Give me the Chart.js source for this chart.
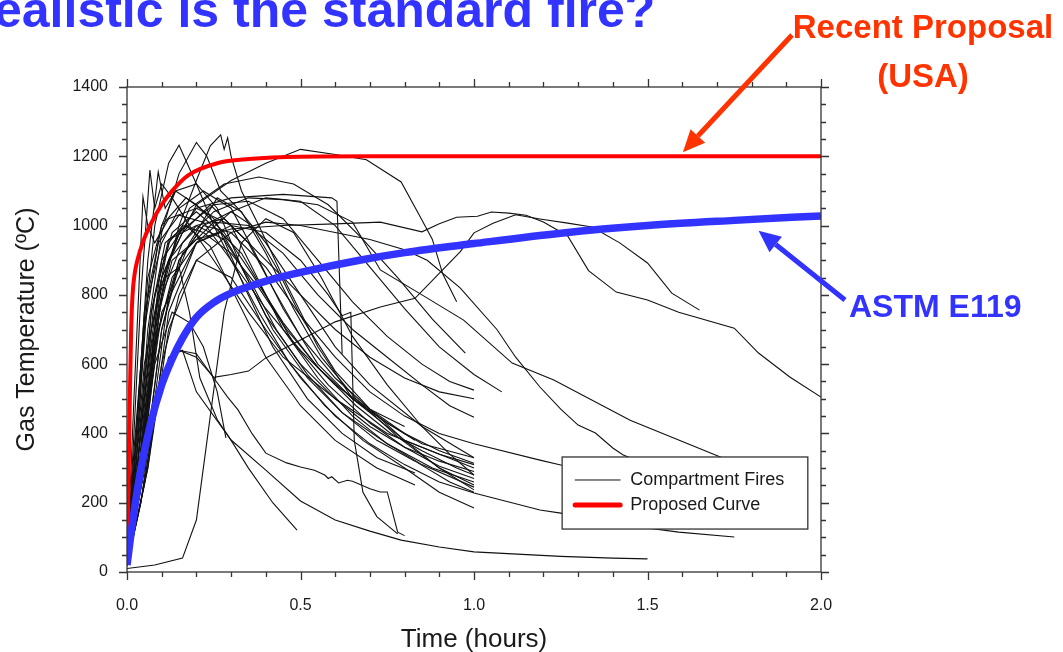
<!DOCTYPE html>
<html lang="en">
<head>
<meta charset="utf-8">
<title>How realistic is the standard fire?</title>
<script src="https://cdn.jsdelivr.net/npm/chart.js@4.4.1/dist/chart.umd.min.js"></script>
<style>
    html, body { margin: 0; padding: 0; background: #fff; overflow: hidden; }
    #wrap { position: relative; width: 1063px; height: 652px; overflow: hidden; background: #fff; }
    #fireChart { position: absolute; left: 0; top: 0; }
    .note { position: absolute; font-family: 'Liberation Sans', Arial, sans-serif; font-weight: bold; white-space: nowrap; }
    #slideTitle { left: -6px; top: -15px; font-size: 50px; line-height: 50px; color: #3333ff; }
    #proposalNote { left: 782px; top: 2px; width: 282px; text-align: center; font-size: 33px; line-height: 49px; color: #ff3300; }
    #astmNote { left: 849px; top: 290px; font-size: 32px; line-height: 32px; color: #3333ff; }
</style>
</head>
<body>
<div id="wrap">
    <canvas id="fireChart" width="1063" height="652"></canvas>
    <div class="note" id="slideTitle">ealistic is the standard fire?</div>
    <div class="note" id="proposalNote">Recent Proposal<br>(USA)</div>
    <div class="note" id="astmNote">ASTM E119</div>
</div>

<script type="text/javascript">

    // time in hours, gas temperature in degC
    const proposedCurve = [[0, 20], [0.005, 300], [0.009, 550], [0.012, 700], [0.016, 800], [0.022, 860], [0.03, 900],
        [0.045, 950], [0.066, 1000], [0.1, 1060], [0.13, 1100], [0.176, 1145], [0.26, 1180], [0.35, 1192],
        [0.5, 1199], [0.7, 1200], [1.0, 1200], [1.5, 1200], [2.0, 1200]];

    const astmE119 = [[0, 20], [0.017, 150], [0.037, 280], [0.066, 420], [0.1, 540], [0.13, 615], [0.16, 675],
        [0.2, 735], [0.25, 778], [0.3, 805], [0.43, 848], [0.5, 865], [0.67, 900], [0.8, 922], [1.0, 948],
        [1.25, 978], [1.5, 1000], [1.75, 1015], [2.0, 1028]];

    const fire01 = [[0, 20], [0.03, 250], [0.07, 650], [0.12, 900], [0.2, 1060], [0.3, 1130], [0.4, 1180], [0.5, 1220], [0.6, 1205], [0.69, 1190], [0.79, 1126], [0.85, 1016], [0.88, 960], [0.91, 860], [0.95, 780]];
    const fire02 = [[0, 20], [0.04, 300], [0.08, 700], [0.13, 900], [0.2, 960], [0.3, 990], [0.45, 1000], [0.6, 1005], [0.73, 1010], [0.85, 982], [0.9, 1005], [0.95, 1024], [1.01, 1027], [1.05, 1039], [1.1, 1036], [1.15, 1030], [1.2, 1010], [1.27, 970], [1.33, 870], [1.41, 808], [1.5, 785], [1.59, 750], [1.75, 704], [1.82, 632], [1.91, 563], [2.0, 505]];
    const fire03 = [[0, 20], [0.05, 300], [0.1, 550], [0.15, 640], [0.2, 620], [0.25, 562], [0.3, 570], [0.35, 580], [0.4, 618], [0.5, 670], [0.6, 722], [0.73, 765], [0.83, 790], [0.89, 852], [0.96, 924], [1.0, 979], [1.055, 1007], [1.12, 1031], [1.19, 1019], [1.27, 1007], [1.34, 996], [1.42, 950], [1.5, 892], [1.57, 805], [1.65, 756]];
    const fire04 = [[0, 20], [0.05, 400], [0.1, 800], [0.15, 1000], [0.2, 1130], [0.24, 1230], [0.27, 1262], [0.28, 1220], [0.29, 1253], [0.3, 1200], [0.33, 1100], [0.38, 1000], [0.45, 850], [0.55, 650], [0.65, 500], [0.8, 380], [1.0, 300]];
    const fire05 = [[0, 20], [0.03, 300], [0.06, 700], [0.1, 980], [0.15, 1150], [0.2, 1240], [0.23, 1200], [0.27, 1100], [0.32, 1050], [0.4, 950], [0.5, 800], [0.6, 650], [0.7, 540], [0.85, 420], [1.0, 330]];
    const fire06 = [[0, 20], [0.02, 200], [0.05, 700], [0.08, 1000], [0.12, 1180], [0.15, 1232], [0.2, 1120], [0.25, 1000], [0.3, 900], [0.4, 760], [0.5, 640], [0.6, 540], [0.7, 470], [0.8, 420]];
    const fire07 = [[0, 20], [0.02, 400], [0.04, 800], [0.066, 1160], [0.08, 1050], [0.1, 1120], [0.13, 1080], [0.18, 1000], [0.25, 900], [0.35, 750], [0.45, 620], [0.6, 500], [0.75, 400], [0.9, 340], [1.0, 310]];
    const fire08 = [[0, 20], [0.02, 500], [0.046, 1083], [0.06, 1000], [0.08, 950], [0.12, 1020], [0.2, 1050], [0.3, 1000], [0.4, 900], [0.5, 800], [0.6, 700], [0.7, 620], [0.8, 560], [0.9, 520], [1.0, 500]];
    const fire09 = [[0, 20], [0.02, 300], [0.05, 750], [0.1, 950], [0.15, 1050], [0.22, 1100], [0.3, 1050], [0.38, 900], [0.45, 760], [0.55, 600], [0.65, 500], [0.75, 430], [0.85, 370], [1.0, 330]];
    const fire10 = [[0, 20], [0.03, 250], [0.07, 700], [0.12, 900], [0.2, 1000], [0.28, 1020], [0.35, 950], [0.42, 820], [0.5, 680], [0.6, 560], [0.7, 470], [0.8, 400], [0.9, 350], [1.0, 314]];
    const fire11 = [[0, 20], [0.02, 350], [0.06, 850], [0.1, 1000], [0.17, 1080], [0.25, 1020], [0.32, 900], [0.4, 740], [0.5, 600], [0.6, 500], [0.7, 420], [0.8, 360], [0.9, 320], [1.0, 290]];
    const fire12 = [[0, 20], [0.04, 300], [0.08, 650], [0.13, 850], [0.2, 950], [0.27, 980], [0.33, 920], [0.4, 800], [0.48, 660], [0.58, 540], [0.7, 430], [0.8, 360], [0.9, 305], [1.0, 270]];
    const fire13 = [[0, 20], [0.03, 400], [0.06, 800], [0.1, 1000], [0.14, 1100], [0.2, 1120], [0.26, 1050], [0.33, 880], [0.42, 700], [0.52, 560], [0.62, 460], [0.75, 370], [0.88, 300], [1.0, 260]];
    const fire14 = [[0, 20], [0.05, 350], [0.09, 700], [0.15, 900], [0.22, 1000], [0.3, 1040], [0.36, 1000], [0.43, 880], [0.5, 740], [0.6, 580], [0.7, 470], [0.8, 380], [0.9, 300], [1.0, 251]];
    const fire15 = [[0, 20], [0.02, 250], [0.05, 600], [0.1, 850], [0.16, 980], [0.24, 1060], [0.3, 1000], [0.37, 860], [0.45, 700], [0.55, 560], [0.65, 450], [0.75, 370], [0.85, 310], [1.0, 245]];
    const fire16 = [[0, 20], [0.04, 200], [0.08, 500], [0.12, 800], [0.18, 950], [0.26, 1080], [0.33, 1040], [0.4, 920], [0.48, 760], [0.56, 620], [0.66, 500], [0.78, 390], [0.9, 300], [1.0, 237]];
    const fire17 = [[0, 20], [0.03, 300], [0.07, 750], [0.12, 960], [0.2, 1000], [0.28, 960], [0.35, 850], [0.43, 700], [0.52, 570], [0.62, 460], [0.72, 380], [0.83, 320], [0.93, 260], [1.0, 230]];
    const fire18 = [[0, 20], [0.02, 300], [0.05, 700], [0.09, 950], [0.15, 1030], [0.22, 1010], [0.3, 900], [0.38, 750], [0.47, 600], [0.57, 480], [0.68, 380], [0.8, 300], [0.9, 230], [1.0, 185]];
    const fire19 = [[0, 20], [0.04, 400], [0.08, 800], [0.13, 980], [0.2, 1040], [0.27, 980], [0.34, 820], [0.42, 650], [0.52, 500], [0.62, 400], [0.72, 330], [0.83, 286]];
    const fire20 = [[0, 20], [0.03, 350], [0.07, 750], [0.11, 950], [0.17, 1000], [0.24, 940], [0.31, 800], [0.4, 620], [0.5, 480], [0.6, 380], [0.72, 300], [0.83, 251]];
    const fire21 = [[0, 20], [0.05, 300], [0.1, 700], [0.16, 920], [0.25, 1010], [0.35, 1000], [0.45, 920], [0.55, 800], [0.65, 700], [0.75, 620], [0.85, 540], [0.93, 480], [1.0, 447]];
    const fire22 = [[0, 20], [0.04, 350], [0.09, 800], [0.15, 980], [0.25, 1060], [0.35, 1070], [0.45, 1020], [0.55, 900], [0.65, 780], [0.75, 680], [0.85, 600], [0.93, 550], [1.0, 525]];
    const fire23 = [[0, 20], [0.06, 300], [0.12, 750], [0.2, 950], [0.3, 1040], [0.4, 1080], [0.5, 1070], [0.6, 1000], [0.7, 880], [0.8, 760], [0.9, 650], [1.0, 570], [1.08, 520]];
    const fire24 = [[0, 20], [0.05, 400], [0.1, 850], [0.18, 1050], [0.28, 1120], [0.38, 1140], [0.48, 1120], [0.58, 1060], [0.68, 960], [0.78, 850], [0.88, 730], [0.975, 632]];
    const fire25 = [[0, 20], [0.05, 400], [0.1, 800], [0.16, 950], [0.25, 1040], [0.35, 1080], [0.45, 1075], [0.55, 1060], [0.65, 1010], [0.73, 872], [0.85, 800], [0.97, 727], [1.11, 603], [1.23, 554], [1.45, 438], [1.71, 332], [1.85, 270]];
    const fire26 = [[0, 20], [0.06, 300], [0.12, 700], [0.2, 900], [0.3, 980], [0.4, 1010], [0.5, 1000], [0.6, 980], [0.7, 960], [0.8, 930], [0.865, 900], [0.96, 820], [1.066, 700], [1.12, 620], [1.19, 534], [1.25, 470], [1.3, 424], [1.35, 401], [1.4, 358], [1.43, 338], [1.55, 290]];
    const fire27 = [[0, 20], [0.05, 300], [0.1, 700], [0.15, 900], [0.22, 1000], [0.3, 980], [0.4, 880], [0.5, 740], [0.6, 620], [0.7, 520], [0.8, 450], [0.9, 400], [1.0, 370], [1.19, 323], [1.25, 309], [1.4, 270]];
    const fire28 = [[0, 20], [0.05, 250], [0.1, 600], [0.15, 800], [0.2, 900], [0.3, 850], [0.4, 700], [0.5, 560], [0.6, 450], [0.7, 370], [0.8, 310], [0.9, 260], [1.0, 228], [1.19, 179], [1.25, 170], [1.4, 140], [1.59, 115], [1.75, 101]];
    const fire29 = [[0, 20], [0.04, 200], [0.08, 450], [0.12, 620], [0.16, 640], [0.2, 520], [0.3, 381], [0.4, 294], [0.5, 205], [0.6, 150], [0.7, 118], [0.79, 92], [0.9, 72], [1.0, 58], [1.25, 45], [1.4, 40], [1.5, 38]];
    const fire30 = [[0, 20], [0.03, 250], [0.07, 600], [0.11, 850], [0.15, 880], [0.18, 750], [0.21, 560], [0.26, 440], [0.3, 380], [0.35, 300], [0.42, 200], [0.49, 121]];
    const fire31 = [[0, 20], [0.04, 300], [0.08, 600], [0.13, 750], [0.18, 720], [0.22, 650], [0.26, 520], [0.285, 387]];
    const fire32 = [[0, 10], [0.08, 20], [0.16, 40], [0.2, 150], [0.24, 450], [0.28, 750], [0.33, 950], [0.4, 1020], [0.48, 980], [0.56, 850], [0.65, 680], [0.75, 540], [0.85, 420], [0.93, 340], [1.0, 280]];
    const fire33 = [[0, 20], [0.05, 500], [0.1, 900], [0.2, 1050], [0.3, 1080], [0.45, 1090], [0.59, 1080], [0.605, 1070], [0.62, 630]];
    const fire34 = [[0, 20], [0.05, 400], [0.1, 750], [0.2, 950], [0.3, 1000], [0.4, 980], [0.5, 900], [0.58, 800], [0.62, 740], [0.645, 750], [0.655, 380], [0.68, 230], [0.72, 160], [0.78, 110]];
    const fire35 = [[0, 20], [0.05, 300], [0.1, 550], [0.15, 640], [0.2, 630], [0.25, 560], [0.29, 505], [0.32, 468], [0.36, 400], [0.4, 343], [0.46, 315], [0.5, 303], [0.54, 294], [0.57, 280], [0.58, 270], [0.59, 275], [0.61, 257], [0.635, 265], [0.65, 262], [0.7, 240], [0.73, 231], [0.75, 231], [0.78, 115], [0.8, 105]];
    const fire36 = [[0, 20], [0.03, 450], [0.06, 900], [0.09, 1155], [0.11, 1050], [0.14, 1100], [0.2, 1060], [0.28, 980], [0.36, 860], [0.45, 720], [0.55, 590], [0.65, 500], [0.75, 430], [0.83, 380]];
    const fire37 = [[0, 20], [0.03, 200], [0.06, 500], [0.09, 800], [0.12, 950], [0.16, 1000], [0.22, 980], [0.3, 920], [0.38, 820], [0.46, 700], [0.56, 580], [0.66, 480], [0.76, 400], [0.85, 350], [0.95, 300], [1.0, 280]];

    const fireCurves = [fire01, fire02, fire03, fire04, fire05, fire06, fire07, fire08, fire09, fire10,
        fire11, fire12, fire13, fire14, fire15, fire16, fire17, fire18, fire19, fire20,
        fire21, fire22, fire23, fire24, fire25, fire26, fire27, fire28, fire29, fire30,
        fire31, fire32, fire33, fire34, fire35, fire36, fire37];

    const legendLabels = ["Compartment Fires", "Proposed Curve"];

    const FIRE_COLOR = "#111";
    const PROPOSED_COLOR = "#ff0000";
    const ASTM_COLOR = "#3333ff";
    const ARROW_RED = "#ff3300";
    const TEXT_COLOR = "#1a1a1a";

    Chart.defaults.font.family = "'Liberation Sans', Arial, sans-serif";

    // box round the plot, with minor/major ticks on all four sides
    const frameAxes = {
        id: "frameAxes",
        afterDraw(chart) {
            const {ctx, chartArea: a, scales: {x, y}} = chart;
            ctx.save();
            ctx.strokeStyle = "#333";
            ctx.lineWidth = 1.3;
            ctx.strokeRect(a.left, a.top, a.right - a.left, a.bottom - a.top);
            ctx.beginPath();
            for (let i = 0; i <= 20; i++) {
                const px = Math.round(x.getPixelForValue(i / 10)) + 0.5;
                const len = i % 5 === 0 ? 8 : 5;
                ctx.moveTo(px, a.bottom); ctx.lineTo(px, a.bottom + len);
                ctx.moveTo(px, a.top); ctx.lineTo(px, a.top - len);
            }
            for (let v = 0; v <= 1400; v += 50) {
                const py = Math.round(y.getPixelForValue(v)) + 0.5;
                const len = v % 200 === 0 ? 8 : 5;
                ctx.moveTo(a.left, py); ctx.lineTo(a.left - len, py);
                ctx.moveTo(a.right, py); ctx.lineTo(a.right + len, py);
            }
            ctx.stroke();
            ctx.restore();
        }
    };

    // legend box inside the plot, lower right
    const legendBox = {
        id: "legendBox",
        afterDatasetsDraw(chart) {
            const {ctx, scales: {x, y}} = chart;
            const left = x.getPixelForValue(1.254), right = x.getPixelForValue(1.962);
            const top = y.getPixelForValue(332), bottom = y.getPixelForValue(124);
            ctx.save();
            ctx.fillStyle = "#fff";
            ctx.fillRect(left, top, right - left, bottom - top);
            ctx.strokeStyle = "#333";
            ctx.lineWidth = 1.3;
            ctx.strokeRect(left, top, right - left, bottom - top);
            const row1 = top + 23, row2 = top + 48;
            ctx.lineCap = "round";
            ctx.strokeStyle = FIRE_COLOR; ctx.lineWidth = 1;
            ctx.beginPath(); ctx.moveTo(left + 13, row1); ctx.lineTo(left + 58, row1); ctx.stroke();
            ctx.strokeStyle = PROPOSED_COLOR; ctx.lineWidth = 5;
            ctx.beginPath(); ctx.moveTo(left + 13, row2); ctx.lineTo(left + 58, row2); ctx.stroke();
            ctx.fillStyle = TEXT_COLOR;
            ctx.font = "18px 'Liberation Sans', Arial, sans-serif";
            ctx.textBaseline = "middle";
            ctx.fillText(legendLabels[0], left + 68, row1);
            ctx.fillText(legendLabels[1], left + 68, row2);
            ctx.restore();
        }
    };

    function drawArrow(ctx, x0, y0, x1, y1, color) {
        const ang = Math.atan2(y1 - y0, x1 - x0);
        const headLen = 22, headHalf = 10;
        const bx = x1 - headLen * Math.cos(ang), by = y1 - headLen * Math.sin(ang);
        ctx.strokeStyle = color;
        ctx.fillStyle = color;
        ctx.lineWidth = 5;
        ctx.beginPath(); ctx.moveTo(x0, y0); ctx.lineTo(bx, by); ctx.stroke();
        ctx.beginPath();
        ctx.moveTo(x1, y1);
        ctx.lineTo(bx + headHalf * Math.sin(ang), by - headHalf * Math.cos(ang));
        ctx.lineTo(bx - headHalf * Math.sin(ang), by + headHalf * Math.cos(ang));
        ctx.closePath();
        ctx.fill();
    }

    // arrows from the notes to the two curves
    const noteArrows = {
        id: "noteArrows",
        afterDraw(chart) {
            const {ctx, scales: {x, y}} = chart;
            ctx.save();
            drawArrow(ctx, 792, 35, x.getPixelForValue(1.602), y.getPixelForValue(1212), ARROW_RED);
            drawArrow(ctx, 845, 300, x.getPixelForValue(1.82), y.getPixelForValue(985), ASTM_COLOR);
            ctx.restore();
        }
    };

    const fireDatasets = fireCurves.map((pts, i) => ({
        label: i === 0 ? legendLabels[0] : "",
        data: pts,
        borderColor: FIRE_COLOR,
        borderWidth: 1.1,
        pointRadius: 0,
        tension: 0,
        order: 3
    }));

    new Chart("fireChart", {
        type: "line",
        data: {
            datasets: [
                ...fireDatasets,
                {
                    label: legendLabels[1],
                    data: proposedCurve,
                    borderColor: PROPOSED_COLOR,
                    borderWidth: 4,
                    pointRadius: 0,
                    cubicInterpolationMode: "monotone",
                    order: 2
                },
                {
                    label: "ASTM E119",
                    data: astmE119,
                    borderColor: ASTM_COLOR,
                    borderWidth: 7.5,
                    pointRadius: 0,
                    cubicInterpolationMode: "monotone",
                    order: 1
                }
            ]
        },
        options: {
            responsive: false,
            animation: false,
            devicePixelRatio: 1,
            layout: {padding: {left: 0, top: 87, right: 242, bottom: 0}},
            plugins: {legend: {display: false}, tooltip: {enabled: false}},
            scales: {
                x: {
                    type: "linear",
                    min: 0,
                    max: 2,
                    grid: {display: false},
                    border: {display: false},
                    ticks: {
                        stepSize: 0.5,
                        padding: 16,
                        maxRotation: 0,
                        color: TEXT_COLOR,
                        font: {size: 16},
                        callback: v => v.toFixed(1)
                    },
                    title: {display: true, text: "Time (hours)", color: TEXT_COLOR, font: {size: 26}, padding: {top: 0, bottom: -3}},
                    afterFit: s => { s.height = 80; }
                },
                y: {
                    type: "linear",
                    min: 0,
                    max: 1400,
                    grid: {display: false},
                    border: {display: false},
                    ticks: {stepSize: 200, padding: 11, color: TEXT_COLOR, font: {size: 16}, callback: v => String(v)},
                    title: {display: true, text: "Gas Temperature (ºC)", color: TEXT_COLOR, font: {size: 25}, padding: {top: 12, bottom: 0}},
                    afterFit: s => { s.width = 127; }
                }
            }
        },
        plugins: [legendBox, frameAxes, noteArrows]
    });

</script>
</body>
</html>
